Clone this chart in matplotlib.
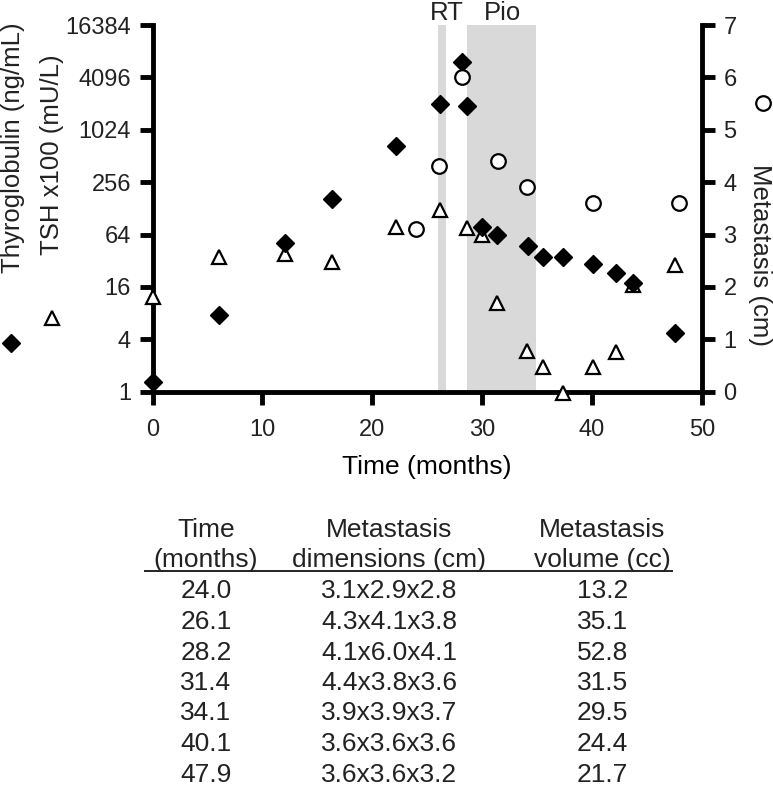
import matplotlib
matplotlib.use('Agg')
import matplotlib.pyplot as plt
from matplotlib.lines import Line2D

# thyroglobulin (ng/mL)
tg_time = [0, 6.05, 12.06, 16.36, 22.13, 26.16, 28.19, 28.64, 29.95, 31.32,
           34.14, 35.56, 37.38, 40.1, 42.17, 43.75, 47.54]
tg_val = [1.3, 7.6, 51.6, 164, 672, 2010, 6110, 1924, 79, 63,
          47.6, 35.6, 35.6, 29.1, 23.3, 17.6, 4.7]

# TSH x100 (mU/L)
tsh_time = [0, 6.05, 12.06, 16.36, 22.13, 26.16, 28.64, 29.95, 31.32, 34.1,
            35.56, 37.32, 40.1, 42.15, 43.75, 47.54]
tsh_val = [12.4, 35.6, 38.3, 31.2, 77.6, 122.6, 75.5, 63.2, 10.5, 2.94,
           1.94, 0.97, 1.94, 2.88, 16.8, 28.6]

# metastasis table
tab_time = ['24.0', '26.1', '28.2', '31.4', '34.1', '40.1', '47.9']
tab_dims = ['3.1x2.9x2.8', '4.3x4.1x3.8', '4.1x6.0x4.1', '4.4x3.8x3.6',
            '3.9x3.9x3.7', '3.6x3.6x3.6', '3.6x3.6x3.2']
tab_vol = ['13.2', '35.1', '52.8', '31.5', '29.5', '24.4', '21.7']

# largest metastasis dimension (cm), right axis
met_time = [24.0, 26.1, 28.2, 31.4, 34.1, 40.1, 47.9]
met_cm = [3.1, 4.3, 6.0, 4.4, 3.9, 3.6, 3.6]

rt_span = (26.0, 26.7)
pio_span = (28.6, 34.9)

yticks = [1, 4, 16, 64, 256, 1024, 4096, 16384]

W, H = 773, 787
txt = '#222222'
plt.rcParams['font.family'] = ['Liberation Sans', 'DejaVu Sans']
plt.rcParams['font.size'] = 17
plt.rcParams['text.color'] = txt
plt.rcParams['xtick.color'] = 'black'
plt.rcParams['ytick.color'] = 'black'
plt.rcParams['xtick.labelcolor'] = txt
plt.rcParams['ytick.labelcolor'] = txt
lab_fs = 18.5
tab_fs = 19


def fx(px):
    return px / W


def fy(py):
    return 1 - py / H


fig = plt.figure(figsize=(W / 100, H / 100), dpi=100)
ax = fig.add_axes([fx(152.5), fy(391.7), fx(702) - fx(152.5), fy(25) - fy(391.7)])
ax2 = ax.twinx()

lw = 3.5
ax.axvspan(*rt_span, color='#d9d9d9', lw=0, zorder=0)
ax.axvspan(*pio_span, color='#d9d9d9', lw=0, zorder=0)

ax.plot(tsh_time, tsh_val, ls='none', marker='^', ms=10, mfc='white',
        mec='black', mew=1.6, clip_on=False, zorder=3)
ax.plot(tg_time, tg_val, ls='none', marker='D', ms=9, mfc='black',
        mec='black', mew=1, clip_on=False, zorder=4)
ax2.plot(met_time, met_cm, ls='none', marker='o', ms=10.5, mfc='white',
         mec='black', mew=1.6, clip_on=False, zorder=4)

ax.set_yscale('log', base=2)
ax.set_ylim(1, 16384)
ax.set_yticks(yticks)
ax.set_yticklabels([str(v) for v in yticks])
ax.minorticks_off()
ax.set_xlim(0, 50)
ax.set_xticks([0, 10, 20, 30, 40, 50])
ax2.set_ylim(0, 7)
ax2.set_yticks(range(8))

for s in ['top', 'right']:
    ax.spines[s].set_visible(False)
for s in ['top', 'left', 'bottom']:
    ax2.spines[s].set_visible(False)
for s in ['left', 'bottom']:
    ax.spines[s].set_linewidth(lw)
ax2.spines['right'].set_linewidth(lw)

ax.tick_params(axis='both', direction='out', length=9.5, width=lw, pad=6)
ax.tick_params(axis='x', pad=10)
ax2.tick_params(axis='y', direction='out', length=9.5, width=lw, pad=6)

ax.set_xlabel('Time (months)', fontsize=19, labelpad=10)

# axis titles with their marker keys
fig.text(fx(12.8), fy(148), 'Thyroglobulin (ng/mL)', rotation=90, ha='center',
         va='center', fontsize=lab_fs)
fig.text(fx(52), fy(155), 'TSH x100 (mU/L)', rotation=90, ha='center',
         va='center', fontsize=lab_fs)
fig.text(fx(760), fy(255), 'Metastasis (cm)', rotation=270, ha='center',
         va='center', fontsize=lab_fs)
fig.add_artist(Line2D([fx(11)], [fy(343)], marker='D', ms=9, mfc='black', mec='black',
                      mew=1, transform=fig.transFigure))
fig.add_artist(Line2D([fx(52)], [fy(318)], marker='^', ms=10, mfc='white', mec='black',
                      mew=1.6, transform=fig.transFigure))
fig.add_artist(Line2D([fx(763)], [fy(103)], marker='o', ms=10.5, mfc='white', mec='black',
                      mew=1.6, transform=fig.transFigure))

fig.text(fx(446.5), fy(20.5), 'RT', ha='center', va='baseline', fontsize=18.5)
fig.text(fx(502), fy(20.5), 'Pio', ha='center', va='baseline', fontsize=18.5)

# table below
cols = [206, 389, 602.5]
heads1 = ['Time', 'Metastasis', 'Metastasis']
heads2 = ['(months)', 'dimensions (cm)', 'volume (cc)']
for c, h1, h2 in zip(cols, heads1, heads2):
    fig.text(fx(c), fy(536.7), h1, ha='center', va='baseline', fontsize=tab_fs)
    fig.text(fx(c), fy(566.7), h2, ha='center', va='baseline', fontsize=tab_fs)
fig.add_artist(Line2D([fx(145), fx(672)], [fy(570.7), fy(570.7)], color='#222222',
                      lw=1.4, transform=fig.transFigure))
for i in range(len(tab_time)):
    yb = fy(598.5 + 30.5 * i)
    fig.text(fx(cols[0]), yb, tab_time[i], ha='center', va='baseline', fontsize=tab_fs)
    fig.text(fx(cols[1]), yb, tab_dims[i], ha='center', va='baseline', fontsize=tab_fs)
    fig.text(fx(cols[2]), yb, tab_vol[i], ha='center', va='baseline', fontsize=tab_fs)

fig.savefig('out.png', dpi=100)
